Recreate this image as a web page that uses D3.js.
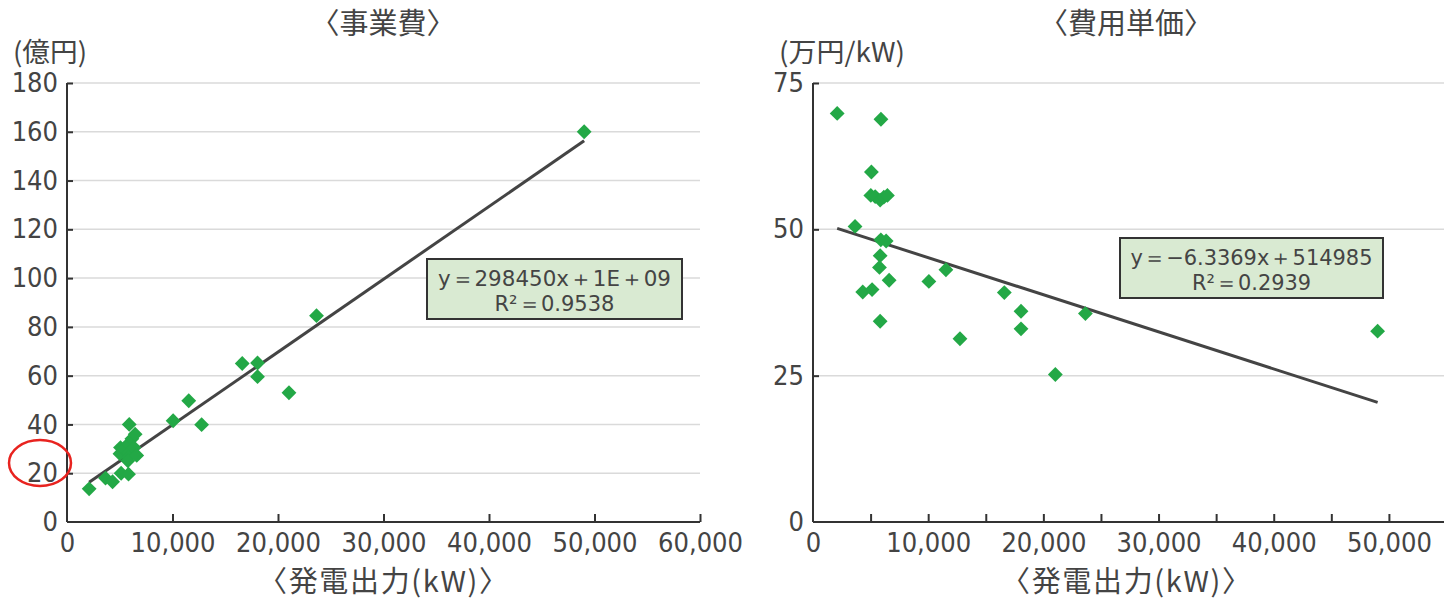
<!DOCTYPE html>
<html>
<head>
<meta charset="utf-8">
<script src="https://cdn.jsdelivr.net/npm/d3@7"></script>
<style>
  body { margin: 0; background: #fff; }
  .num { font-family: "Liberation Sans Narrow", "DejaVu Sans Condensed", "Liberation Sans", sans-serif; fill: #444; }
  .jp { font-family: "Noto Sans CJK JP", sans-serif; fill: #444; }
</style>
</head>
<body>
<svg width="1444" height="602"></svg>
<script>
// power output (kW)
let capacityKW = [2100, 5900, 5070, 5020, 5400, 5830, 6150, 6460, 3650, 5890, 6350, 5830, 5770,
  6610, 4320, 5130, 5830, 10060, 11540, 12760, 16610, 18060, 18060, 21040, 23650, 49020];
// 事業費 (億円)
let projectCost = [13.6, 40.0, 30.5, 28.0, 30.0, 32.1, 34.1, 36.0, 18.0, 28.4, 30.5, 26.5, 25.1,
  27.3, 16.5, 20.0, 19.6, 41.5, 49.7, 39.9, 65.0, 65.2, 59.6, 53.0, 84.6, 160];
// 費用単価 (万円/kW)
let unitCost = [69.8, 68.8, 59.8, 55.8, 55.6, 55.0, 55.5, 55.8, 50.5, 48.2, 48.0, 45.5, 43.5,
  41.3, 39.3, 39.7, 34.3, 41.1, 43.1, 31.3, 39.2, 36.0, 33.0, 25.2, 35.6, 32.6];

// Excel trendlines (円 units converted)
let costFit = { slope: 298450 / 1e8, intercept: 1e9 / 1e8, label: ["y＝298450x＋1E＋09", "R²＝0.9538"] };
let unitFit = { slope: -6.3369 / 1e4, intercept: 514985 / 1e4, label: ["y＝−6.3369x＋514985", "R²＝0.2939"] };

let leftYTicks = [0, 20, 40, 60, 80, 100, 120, 140, 160, 180];
let leftXTicks = [0, 10000, 20000, 30000, 40000, 50000, 60000];
let rightYTicks = [0, 25, 50, 75];
let rightXTicks = d3.range(0, 55001, 5000);

let svg = d3.select('svg');
let fmt = d3.format(',');

function drawPanel(opt) {
  let g = svg.append('g');
  let x = opt.x, y = opt.y;

  // grid
  g.selectAll('.grid')
    .data(opt.yTicks.filter(d => d > 0))
    .join('line')
    .attr('x1', x.range()[0]).attr('x2', opt.gridEnd)
    .attr('y1', d => y(d)).attr('y2', d => y(d))
    .attr('stroke', '#dadada').attr('stroke-width', 1.5);

  let ya = g.append('g')
    .attr('transform', `translate(${x.range()[0]},0)`)
    .call(d3.axisLeft(y).tickValues(opt.yTicks).tickSize(-6).tickPadding(9));
  let xa = g.append('g')
    .attr('transform', `translate(0,${y.range()[0]})`)
    .call(d3.axisBottom(x).tickValues(opt.xTicks).tickSize(-8).tickPadding(11)
      .tickFormat(d => d % 10000 === 0 ? fmt(d) : ''));
  xa.select('.domain').attr('d', `M${x.range()[0]},0H${opt.gridEnd}`);
  ya.select('.domain').attr('d', `M0,${y.range()[0]}V${y.range()[1]}`);

  [ya, xa].forEach(a => {
    a.selectAll('.domain, .tick line').attr('stroke', '#333').attr('stroke-width', 2);
    a.selectAll('text').attr('class', 'num').attr('font-size', 27).attr('fill', '#444');
  });
  xa.selectAll('.tick').filter(d => d === 0).select('line').remove();
  ya.selectAll('.tick').filter(d => d === 0).select('line').remove();

  // trendline over data range
  let ext = d3.extent(capacityKW);
  g.append('line')
    .attr('x1', x(ext[0])).attr('y1', y(opt.fit.intercept + opt.fit.slope * ext[0]))
    .attr('x2', x(ext[1])).attr('y2', y(opt.fit.intercept + opt.fit.slope * ext[1]))
    .attr('stroke', '#444').attr('stroke-width', 3);

  // points
  g.selectAll('.pt')
    .data(capacityKW.map((c, i) => [c, opt.values[i]]))
    .join('path')
    .attr('d', d3.symbol(d3.symbolSquare, 110))
    .attr('transform', d => `translate(${x(d[0])},${y(d[1])}) rotate(45)`)
    .attr('fill', '#23a846');

  // equation box
  let b = opt.box;
  g.append('rect')
    .attr('x', b[0]).attr('y', b[1]).attr('width', b[2]).attr('height', b[3])
    .attr('fill', '#d9ead2').attr('stroke', '#333').attr('stroke-width', 2);
  g.selectAll('.eq')
    .data(opt.fit.label)
    .join('text')
    .attr('class', 'num')
    .attr('x', b[0] + b[2] / 2)
    .attr('y', (d, i) => b[1] + 27 + i * 25)
    .attr('text-anchor', 'middle')
    .attr('font-size', 21)
    .attr('textLength', (d, i) => opt.eqLen[i])
    .attr('lengthAdjust', 'spacingAndGlyphs')
    .text(d => d);

  // titles
  g.append('text').attr('class', 'jp').attr('x', opt.titleX).attr('y', 34)
    .attr('text-anchor', 'middle').attr('font-size', 29).text(opt.title);
  g.append('text').attr('class', 'jp').attr('x', opt.unitX).attr('y', 62)
    .attr('font-size', 27).attr('textLength', opt.unitLen).attr('lengthAdjust', 'spacingAndGlyphs')
    .text(opt.unit);
  g.append('text').attr('class', 'jp').attr('x', opt.titleX).attr('y', 592)
    .attr('text-anchor', 'middle').attr('font-size', 29)
    .attr('textLength', 250).attr('lengthAdjust', 'spacing').text('〈発電出力(kW)〉');
}

drawPanel({
  x: d3.scaleLinear([0, 60000], [67, 700]),
  y: d3.scaleLinear([0, 180], [522, 83]),
  xTicks: leftXTicks, yTicks: leftYTicks, gridEnd: 700,
  values: projectCost, fit: costFit, eqLen: [233, 120],
  box: [427, 259, 255, 60],
  title: '〈事業費〉', titleX: 383, unit: '(億円)', unitX: 13, unitLen: 74
});

drawPanel({
  x: d3.scaleLinear([0, 55000], [813, 1446.5]),
  y: d3.scaleLinear([0, 75], [522, 83]),
  xTicks: rightXTicks, yTicks: rightYTicks, gridEnd: 1444,
  values: unitCost, fit: unitFit, eqLen: [242, 119],
  box: [1120, 238, 263, 60],
  title: '〈費用単価〉', titleX: 1126, unit: '(万円/kW)', unitX: 779, unitLen: 126
});

// red highlight around the "20" label
svg.append('ellipse')
  .attr('cx', 40).attr('cy', 463).attr('rx', 31).attr('ry', 23)
  .attr('fill', 'none').attr('stroke', '#e8231f').attr('stroke-width', 2.5);
</script>
</body>
</html>
